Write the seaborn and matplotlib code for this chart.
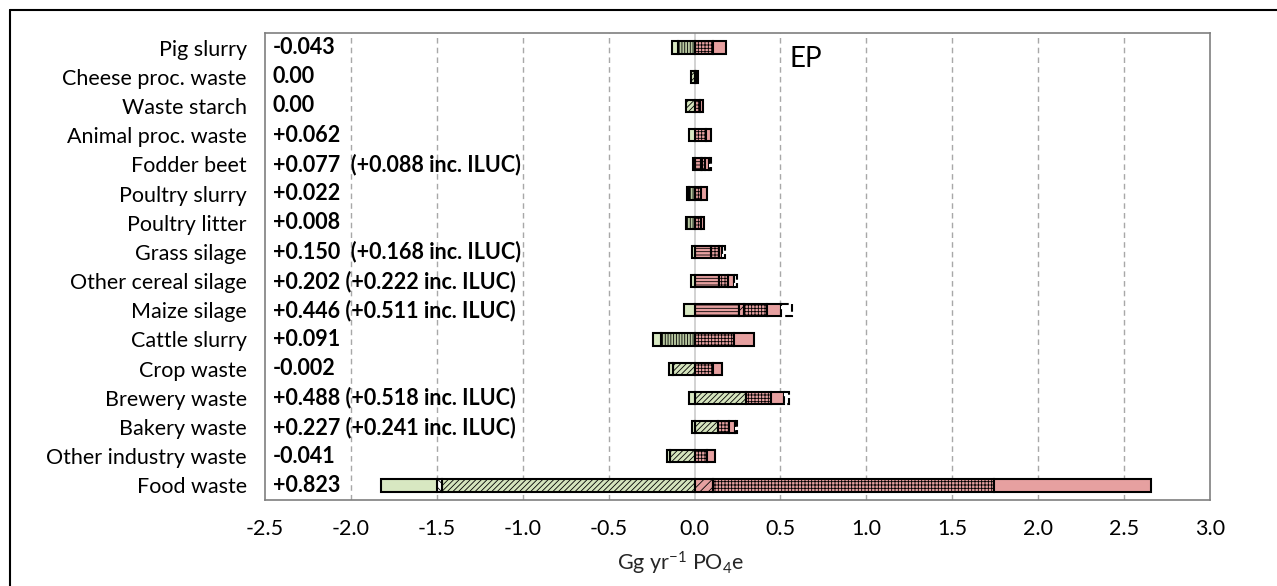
import numpy as np
import matplotlib
matplotlib.use("Agg")
import matplotlib.pyplot as plt
from matplotlib.lines import Line2D
import seaborn as sns

categories = ["Pig slurry", "Cheese proc. waste", "Waste starch", "Animal proc. waste",
              "Fodder beet", "Poultry slurry", "Poultry litter", "Grass silage",
              "Other cereal silage", "Maize silage", "Cattle slurry", "Crop waste",
              "Brewery waste", "Bakery waste", "Other industry waste", "Food waste"]

net_labels = ["-0.043", "0.00", "0.00", "+0.062", "+0.077  (+0.088 inc. ILUC)", "+0.022",
              "+0.008", "+0.150  (+0.168 inc. ILUC)", "+0.202 (+0.222 inc. ILUC)",
              "+0.446 (+0.511 inc. ILUC)", "+0.091", "-0.002", "+0.488 (+0.518 inc. ILUC)",
              "+0.227 (+0.241 inc. ILUC)", "-0.041", "+0.823"]

# series values (Gg yr-1 PO4e), in stacking order
counterfactual = [0, -0.020, -0.048, 0, 0, 0, 0, 0, 0, 0, 0, -0.128, 0.297, 0.136, -0.140, -1.469]
cultivation    = [0, 0, 0, 0, 0.035, 0, 0, 0.098, 0.142, 0.258, 0, 0, 0, 0, 0, 0]
transport      = [0, 0, 0, 0, 0.008, 0, 0, 0, 0, 0.029, 0, 0, 0, 0, 0, 0.105]
digestion      = [0.109, 0.010, 0.030, 0.064, 0.020, 0.035, 0.035, 0.045, 0.055, 0.132, 0.229, 0.105, 0.146, 0.064, 0.070, 1.638]
application    = [0.072, 0.008, 0.020, 0.030, 0.024, 0.035, 0.020, 0.019, 0.030, 0.082, 0.115, 0.052, 0.076, 0.035, 0.047, 0.915]
iluc           = [0, 0, 0, 0, 0.011, 0, 0, 0.018, 0.020, 0.065, 0, 0, 0.030, 0.014, 0, 0]
avoided_slurry = [-0.097, 0, 0, 0, 0, -0.035, -0.047, 0, 0, 0, -0.198, 0, 0, 0, 0, 0]
avoided_other  = [0, 0, 0, 0, 0, 0, 0, 0, 0, 0, 0, 0, 0, 0, 0, -0.029]
avoided_fert   = [-0.033, 0, 0, -0.030, -0.010, -0.008, 0, -0.012, -0.020, -0.062, -0.045, -0.023, -0.035, -0.015, -0.018, -0.327]

xticks = [-2.5, -2.0, -1.5, -1.0, -0.5, 0.0, 0.5, 1.0, 1.5, 2.0, 2.5, 3.0]

series = [
    (counterfactual, dict(color="#d5e4bd", hatch="//////", ls="-")),
    (cultivation,    dict(color="#e6a0a0", hatch="-----", ls="-")),
    (transport,      dict(color="#e6a0a0", hatch="////", ls="-")),
    (digestion,      dict(color="#e6a0a0", hatch="+++++", ls="-")),
    (application,    dict(color="#e6a0a0", hatch="", ls="-")),
    (iluc,           dict(color="white", hatch="", ls="--")),
    (avoided_slurry, dict(color="#b8c8a0", hatch="||||||", ls="-")),
    (avoided_other,  dict(color="white", hatch="\\\\\\\\", ls="-")),
    (avoided_fert,   dict(color="#d8e8c2", hatch="", ls="-")),
]

sns.set_style("white")
plt.rcParams["font.family"] = ["Lato", "DejaVu Sans"]
plt.rcParams["mathtext.fontset"] = "custom"
plt.rcParams["mathtext.rm"] = "Lato"
plt.rcParams["mathtext.it"] = "Lato:italic"
plt.rcParams["hatch.linewidth"] = 0.6
plt.rcParams["hatch.color"] = "black"

W, H = 1277, 586
fig = plt.figure(figsize=(W / 100, H / 100), dpi=100)
ax = fig.add_axes([265 / W, 1 - 500 / H, 945 / W, 467 / H])

n = len(categories)
ypos = np.arange(n)
pos_cum = np.zeros(n)
neg_cum = np.zeros(n)
bh = 0.42
for vals, st in series:
    v = np.array(vals, dtype=float)
    left = np.where(v >= 0, pos_cum, neg_cum)
    mask = v != 0
    ax.barh(ypos[mask], v[mask], left=left[mask], height=bh, color=st["color"],
            edgecolor="black", linewidth=1.5, hatch=st["hatch"], linestyle=st["ls"],
            zorder=3)
    pos_cum += np.where(v > 0, v, 0)
    neg_cum += np.where(v < 0, v, 0)

# gridlines
for xv in xticks[1:-1]:
    if xv == 0:
        ax.axvline(0, color="#cfcfcf", lw=1.3, zorder=1)
    else:
        ax.axvline(xv, color="#a8a8a8", lw=1.0, ls=(0, (4, 3)), zorder=1)

ax.set_xlim(-2.5, 3.0)
ax.set_ylim(n - 0.5, -0.5)
ax.set_xticks(xticks)
ax.set_xticklabels([f"{t:.1f}" for t in xticks])
ax.set_yticks(ypos)
ax.set_yticklabels(categories)
ax.tick_params(axis="both", length=0, labelsize=15.5, colors="black")
ax.tick_params(axis="x", pad=14)
ax.tick_params(axis="y", pad=13)
for sp in ax.spines.values():
    sp.set_visible(True)
    sp.set_color("#7f7f7f")
    sp.set_linewidth(1.2)

for i, lab in enumerate(net_labels):
    ax.text(0.008, i, lab, transform=ax.get_yaxis_transform(), ha="left", va="center",
            fontsize=15.5, fontweight="bold", color="black", zorder=4)

ax.text(0.55, 0.38, "EP", ha="left", va="center", fontsize=20, color="black")

ax.set_xlabel("Gg yr$^{-1}$ PO$_4$e", fontsize=15.5)
ax.xaxis.label.set_va("center")
ax.xaxis.set_label_coords(0.44, -0.135)

fig.add_artist(Line2D([10 / W, 1], [1 - 10 / H, 1 - 10 / H], transform=fig.transFigure,
                      color="black", lw=1.5))
fig.add_artist(Line2D([10 / W, 10 / W], [0, 1 - 10 / H], transform=fig.transFigure,
                      color="black", lw=1.5))

fig.savefig("out.png", dpi=100, facecolor="white")
